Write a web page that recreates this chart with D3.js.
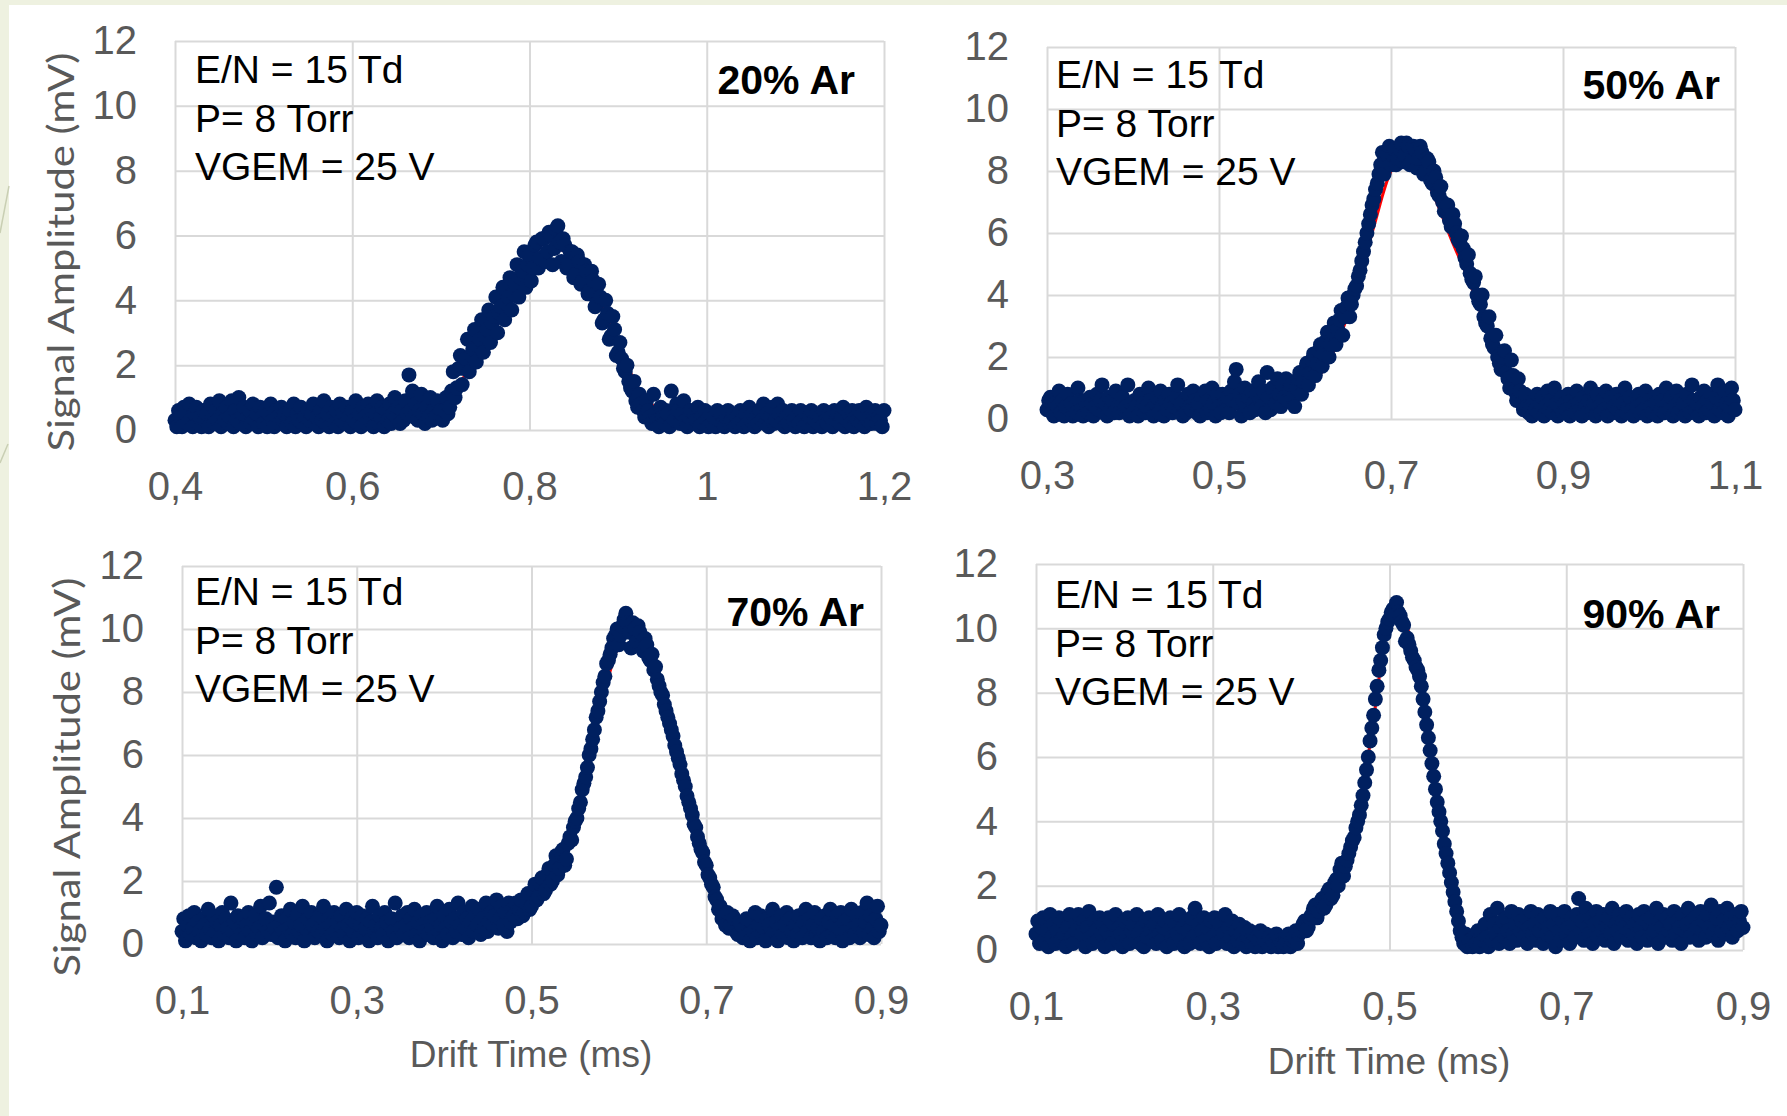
<!DOCTYPE html>
<html>
<head>
<meta charset="utf-8">
<script src="https://cdn.jsdelivr.net/npm/d3@7"></script>
<style>
body { margin: 0; background: #fff; }
svg { display: block; }
text { font-family: "Liberation Sans", Arial, sans-serif; }
</style>
</head>
<body>
<svg id="chart" width="1787" height="1116"></svg>
<script>

// scope traces, one sample every 2 us
var dt = 0.002;

var startAr20 = 0.4;
var ampAr20 = [
  0.3,0.1,0.6,0.4,0.1,0.7,0.5,0.2,0.8,0.3,
  0.1,0.5,0.7,0.2,0.4,0.1,0.6,0.3,0.5,0.1,
  0.8,0.4,0.2,0.6,0.3,0.9,0.1,0.5,0.3,0.7,
  0.2,0.4,0.9,0.1,0.6,0.3,1.0,0.2,0.5,0.7,
  0.1,0.4,0.6,0.2,0.8,0.3,0.5,0.1,0.7,0.4,
  0.2,0.6,0.1,0.5,0.8,0.3,0.1,0.6,0.4,0.2,
  0.7,0.3,0.5,0.1,0.4,0.6,0.2,0.8,0.1,0.5,
  0.3,0.7,0.2,0.4,0.1,0.6,0.3,0.5,0.8,0.2,
  0.4,0.1,0.6,0.3,0.9,0.2,0.5,0.1,0.7,0.4,
  0.2,0.6,0.1,0.8,0.3,0.5,0.2,0.7,0.4,0.1,
  0.6,0.3,0.9,0.2,0.5,0.1,0.7,0.4,0.2,0.8,
  0.3,0.6,0.1,0.5,0.9,0.2,0.4,0.7,0.1,0.6,
  0.3,0.8,0.2,0.5,1.0,0.4,0.7,0.2,0.6,0.3,
  0.9,0.5,1.7,0.6,1.2,0.4,0.8,0.3,0.6,1.1,
  0.5,0.2,0.7,0.4,1.0,0.3,0.6,0.4,0.9,0.5,
  0.6,
  0.3,0.6,1.0,0.5,0.7,1.2,1.8,1.0,1.3,1.9,
  2.3,1.4,1.9,2.2,2.8,1.8,2.3,2.5,3.1,2.1,
  2.6,2.8,3.4,2.4,2.9,3.1,3.7,2.7,3.3,3.5,
  4.1,3.0,3.6,3.8,4.4,3.4,3.9,4.1,4.7,3.7,
  4.2,4.5,5.1,4.1,4.7,4.9,5.5,4.4,5.1,5.4,
  4.6,5.0,5.7,5.8,5.0,5.3,5.9,5.9,5.2,5.5,
  6.1,6.0,5.1,5.6,6.2,6.3,5.8,5.2,5.9,5.7,
  5.0,5.1,5.5,5.5,4.7,4.8,5.4,5.2,4.5,4.6,
  5.1,4.9,4.2,4.3,4.9,4.6,3.8,3.9,4.5,4.1,
  3.3,3.4,4.0,3.6,2.8,2.9,3.5,3.1,2.3,2.4,
  2.7,2.2,1.9,1.8,2.0,1.5,1.3,1.2,1.5,0.9,
  0.7,1.1,0.8,0.6,0.4,0.9,0.6,0.4,0.2,1.1,
  0.5,0.3,0.1,0.7,0.4,0.2,0.6,0.5,0.1,1.2,
  0.4,0.3,0.8,0.6,
  0.2,0.5,0.9,0.3,0.1,0.4,0.6,0.2,0.5,0.3,
  0.7,0.1,0.4,0.2,0.6,0.3,0.1,0.5,0.2,0.4,
  0.1,0.6,0.3,0.5,0.2,0.1,0.4,0.6,0.2,0.3,
  0.5,0.1,0.4,0.2,0.6,0.3,0.1,0.5,0.2,0.7,
  0.3,0.5,0.1,0.4,0.2,0.6,0.3,0.8,0.2,0.5,
  0.1,0.4,0.7,0.2,0.3,0.8,0.5,0.2,0.6,0.1,
  0.4,0.2,0.5,0.6,0.3,0.1,0.4,0.2,0.6,0.3,
  0.1,0.5,0.2,0.4,0.6,0.1,0.3,0.5,0.2,0.4,
  0.1,0.6,0.3,0.2,0.5,0.4,0.1,0.6,0.3,0.5,
  0.2,0.4,0.7,0.1,0.3,0.5,0.2,0.6,0.1,0.4,
  0.3,0.6,0.2,0.5,0.1,0.7,0.3,0.4,0.2,0.5,
  0.6,0.2,0.4,0.3,0.1,0.6
];
var fitAr20 = [[0.65,0.3],[0.70,0.8],[0.73,1.8],[0.76,3.2],[0.79,4.6],[0.81,5.3],[0.83,5.6],
  [0.85,5.3],[0.87,4.6],[0.89,3.3],[0.91,2.0],[0.93,1.0],[0.96,0.4],[1.0,0.3]];

var startAr50 = 0.3;
var ampAr50 = [
  0.3,0.6,0.7,0.2,0.1,0.5,0.4,0.9,0.2,0.6,
  0.1,0.4,0.8,0.3,0.5,0.1,0.4,0.2,1.0,0.6,
  0.3,0.1,0.6,0.4,0.2,0.7,0.5,0.1,0.4,0.8,
  0.3,0.6,1.1,0.2,0.5,0.1,0.7,0.3,0.6,0.2,
  0.9,0.4,0.2,0.6,0.7,0.3,0.4,1.1,0.1,0.5,
  0.2,0.6,0.4,0.1,0.8,0.3,0.5,0.2,0.4,1.0,
  0.6,0.3,0.1,0.5,0.7,0.2,0.9,0.4,0.1,0.6,
  0.3,0.8,0.5,0.2,0.4,0.7,1.1,0.3,0.5,0.1,
  0.6,0.2,0.8,0.4,0.3,0.9,0.6,0.2,0.5,0.1,
  0.7,0.4,0.9,0.2,0.6,0.3,1.0,0.5,0.1,0.8,
  0.4,0.2,0.8,0.5,0.3,0.7,0.2,0.9,0.6,1.2,
  1.6,0.5,0.8,0.1,0.6,1.0,0.4,0.7,0.2,0.9,
  0.5,0.3,0.8,1.2,0.6,0.4,0.9,0.2,1.5,0.7,
  0.3,1.0,0.6,0.5,1.3,0.8,0.4,1.1,0.7,1.3,
  0.6,0.9,1.1,0.7,0.4,1.0,1.3,1.5,0.8,1.2,
  1.6,1.8,1.1,1.5,1.9,2.1,1.4,1.8,2.2,2.4,
  1.7,2.1,2.5,2.8,2.0,2.4,2.8,3.1,2.4,2.9,
  3.2,3.5,2.7,3.3,3.6,3.9,3.3,3.7,4.0,4.2,
  4.3,4.6,4.8,5.1,5.4,5.7,6.0,6.3,6.6,6.9,
  7.1,7.4,7.6,7.9,8.2,8.6,7.9,8.3,8.5,8.8,
  8.2,8.5,8.7,8.2,8.4,8.7,8.9,8.3,8.5,8.9,
  8.8,8.2,8.3,8.8,8.7,8.1,8.4,8.8,8.6,7.9,
  8.0,8.4,8.3,7.7,7.6,8.0,7.8,7.3,7.2,7.5,
  7.0,6.7,6.8,6.9,6.4,6.2,6.6,6.3,6.0,5.8,
  5.7,5.9,5.5,5.2,5.0,5.3,4.7,4.5,4.4,4.6,
  4.0,3.8,3.7,4.0,3.3,3.1,3.0,3.3,2.6,2.4,
  2.3,2.7,2.0,1.8,1.6,2.0,2.2,1.5,1.3,1.0,
  1.9,1.4,0.9,0.6,1.3,0.9,0.5,0.3,0.8,0.4,
  0.2,
  0.4,0.1,0.6,0.3,0.8,0.2,0.5,0.7,0.1,0.4,
  0.9,0.3,0.6,0.2,1.0,0.5,0.1,0.4,0.7,0.2,
  0.5,0.3,0.8,0.1,0.6,0.4,0.2,0.9,0.5,0.3,
  0.1,0.7,0.4,0.2,0.6,1.0,0.3,0.5,0.1,0.8,
  0.4,0.2,0.6,0.3,0.9,0.1,0.5,0.7,0.2,0.4,
  0.8,0.3,0.6,0.1,0.5,1.0,0.2,0.4,0.7,0.3,
  0.1,0.6,0.4,0.8,0.2,0.5,0.3,0.9,0.1,0.6,
  0.4,0.2,0.7,0.5,0.1,0.8,0.3,0.6,0.2,1.0,
  0.5,0.3,0.7,0.1,0.4,0.9,0.2,0.6,0.3,0.5,
  0.1,0.8,0.4,0.2,1.1,0.6,0.3,0.5,0.1,0.7,
  0.4,0.9,0.2,0.6,0.3,0.8,0.5,0.1,0.7,1.1,
  0.3,0.6,0.2,0.9,0.5,0.1,0.4,1.0,0.6,0.3
];
var fitAr50 = [[0.55,0.3],[0.60,0.9],[0.63,2.0],[0.66,4.2],[0.68,6.2],[0.70,8.0],[0.715,8.6],
  [0.73,8.3],[0.75,7.2],[0.77,5.8],[0.79,4.5],[0.81,3.0],[0.83,1.6],[0.86,0.5],[0.90,0.3]];

var startAr70 = 0.1;
var ampAr70 = [
  0.4,0.8,0.1,0.6,0.9,0.3,0.5,1.0,0.2,0.7,
  0.4,0.1,0.8,0.6,0.3,1.1,0.5,0.2,0.9,0.4,
  0.7,0.1,0.6,1.0,0.3,0.8,0.5,0.2,1.3,0.4,
  0.7,0.1,0.9,0.5,0.3,0.8,0.2,0.6,1.0,0.4,
  0.1,0.7,0.9,0.3,0.5,1.2,0.2,0.6,0.8,0.4,
  1.3,0.3,0.7,0.5,1.8,0.2,0.6,0.9,0.4,0.1,
  0.8,0.5,1.1,0.3,0.7,0.2,0.9,0.4,0.6,1.2,
  0.1,0.5,0.8,0.3,1.0,0.6,0.2,0.7,0.4,0.9,
  0.3,1.2,0.5,0.1,0.8,0.6,0.3,1.0,0.4,0.7,
  0.2,0.9,0.5,0.3,1.1,0.6,0.1,0.8,0.4,0.7,
  1.0,0.2,0.6,0.9,0.3,0.5,0.8,0.1,0.7,1.2,
  0.4,0.6,0.2,0.9,0.5,0.3,1.0,0.7,0.1,0.6,
  0.8,0.4,1.3,0.2,0.7,0.5,0.9,0.3,0.6,1.0,
  0.2,0.8,0.5,1.1,0.3,0.7,0.1,0.9,0.6,0.4,
  1.0,0.3,0.7,0.5,0.2,0.8,1.2,0.4,0.6,0.1,
  0.9,0.5,0.3,1.1,0.7,0.2,0.8,0.4,1.3,0.6,
  0.3,1.0,0.5,0.8,0.2,0.7,1.2,0.4,0.9,0.6,
  1.1,0.3,0.8,0.5,1.3,0.4,0.7,1.0,0.6,0.9,
  1.4,0.5,0.8,1.2,0.6,1.0,0.4,1.3,0.7,1.1,
  0.9,1.3,
  0.8,1.1,1.4,0.9,1.0,1.3,1.6,1.1,1.2,1.6,
  1.9,1.4,1.5,1.9,2.1,1.6,1.7,2.2,2.4,1.9,
  2.0,2.5,2.8,2.2,2.4,2.9,3.0,2.5,2.7,3.2,
  3.4,3.3,3.7,3.9,4.0,4.3,4.5,4.9,5.1,5.3,
  5.6,6.0,6.2,6.5,6.8,7.2,7.4,7.7,8.0,8.3,
  8.5,8.9,9.0,9.2,9.4,9.7,9.8,10.0,9.5,9.8,
  10.1,10.3,10.5,10.2,9.9,9.4,10.2,10.0,9.6,10.1,
  9.9,9.5,9.3,9.7,9.5,9.1,9.0,9.2,8.7,8.8,
  8.4,8.2,8.0,7.9,7.6,7.4,7.2,7.0,6.8,6.6,
  6.3,6.1,5.9,5.7,5.4,5.2,5.0,4.7,4.5,4.3,
  4.1,3.8,3.7,3.4,3.2,3.0,2.9,2.6,2.5,2.2,
  2.1,1.9,1.8,1.5,1.4,1.1,1.2,0.8,0.9,0.6,
  1.0,0.5,0.6,0.9,0.8,0.4,0.3,0.7,0.6,
  0.2,0.5,0.8,0.3,0.1,0.7,0.4,1.0,0.2,0.6,
  0.9,0.3,0.5,0.1,0.8,0.6,0.2,1.1,0.4,0.7,
  0.1,0.5,0.9,0.3,0.6,1.0,0.2,0.8,0.4,0.1,
  0.6,0.3,0.9,0.5,0.2,0.7,1.1,0.4,0.8,0.2,
  0.6,1.0,0.3,0.5,0.1,0.8,0.4,0.9,0.2,0.7,
  1.1,0.3,0.6,0.2,0.9,0.5,1.0,0.1,0.7,0.4,
  0.8,0.2,1.1,0.5,0.3,0.9,0.6,0.2,1.0,0.4,
  0.7,1.3,0.3,0.9,0.5,0.2,0.8,1.2,0.4,0.6
];
var fitAr70 = [[0.45,0.4],[0.50,1.5],[0.53,2.8],[0.56,5.0],[0.58,7.6],[0.60,9.5],[0.612,10.0],
  [0.63,9.4],[0.65,7.8],[0.67,5.5],[0.69,3.4],[0.71,1.6],[0.74,0.5],[0.78,0.3]];

var startAr90 = 0.1;
var ampAr90 = [
  0.5,0.9,0.2,0.7,1.0,0.3,0.6,0.1,1.1,0.4,
  0.8,0.2,0.6,1.0,0.3,0.9,0.5,0.1,0.7,1.1,
  0.4,0.2,0.8,0.6,1.1,0.3,0.5,0.9,0.1,0.7,
  1.2,0.4,0.2,0.9,0.6,0.3,1.0,0.5,0.8,0.1,
  0.6,1.0,0.4,0.2,0.8,1.1,0.3,0.7,0.5,0.1,
  0.9,0.4,1.0,0.2,0.6,0.8,0.3,1.1,0.5,0.2,
  0.7,0.1,0.9,0.4,1.0,0.6,0.3,0.8,0.2,1.1,
  0.5,0.3,0.7,0.9,0.1,0.6,1.0,0.4,0.2,0.8,
  0.5,1.1,0.3,0.7,0.1,0.9,0.6,0.2,1.0,0.4,
  1.3,0.5,0.8,0.2,0.6,1.0,0.3,0.7,0.1,0.9,
  0.4,1.0,0.2,0.6,0.8,0.3,0.5,1.1,0.2,0.7,
  0.4,0.9,0.1,0.6,0.3,0.8,0.5,0.2,0.7,0.1,
  0.4,0.6,0.2,0.5,0.1,0.4,0.3,0.6,0.1,0.3,
  0.5,0.2,0.4,0.1,0.3,0.2,0.5,0.1,0.3,0.2,
  0.1,0.2,
  0.3,0.5,0.1,0.3,0.4,0.6,0.2,0.5,0.6,0.8,
  0.9,0.6,0.7,1.0,1.1,1.3,1.4,1.0,1.2,1.5,
  1.6,1.3,1.4,1.8,1.9,1.6,1.7,2.1,2.2,2.0,
  2.5,2.7,2.3,2.6,2.8,3.0,3.2,3.4,3.5,3.8,
  4.0,4.2,4.5,4.8,5.2,5.6,6.0,6.5,6.9,7.3,
  7.8,8.2,8.7,9.0,9.4,9.8,10.0,10.2,10.3,10.5,
  10.6,10.4,10.8,10.5,10.4,10.2,10.1,9.6,9.7,9.5,
  9.3,9.1,9.0,8.8,8.7,8.5,8.2,7.8,7.4,7.0,
  6.6,6.2,5.8,5.4,5.0,4.6,4.3,4.0,3.7,3.3,
  3.0,2.7,2.4,2.1,1.8,1.5,1.2,0.9,0.6,0.4,
  0.2,0.5,0.1,0.3,
  0.3,0.1,0.4,0.2,0.6,0.1,0.5,0.3,0.8,0.4,
  0.1,1.1,0.3,0.8,0.5,1.3,0.2,0.7,0.9,0.4,
  1.0,0.6,0.2,1.2,0.5,0.8,0.3,1.1,0.6,0.9,
  0.4,1.0,0.2,0.7,1.2,0.5,0.8,0.3,1.1,0.6,
  0.9,0.2,1.0,0.5,0.7,1.2,0.4,0.8,0.1,1.1,
  0.6,0.3,0.9,1.2,0.5,0.7,0.2,1.0,0.8,0.4,
  1.1,1.6,0.6,0.9,0.3,1.3,0.7,0.5,1.0,0.2,
  0.8,1.2,0.4,0.9,0.6,1.1,0.3,0.7,1.0,0.5,
  1.3,0.2,0.8,0.6,1.1,0.4,0.9,0.7,1.2,0.3,
  0.6,1.0,0.5,0.8,0.2,1.1,0.7,0.4,1.2,0.9,
  0.3,0.8,1.0,0.5,0.6,1.3,0.2,0.9,0.7,1.1,
  0.4,1.0,0.6,0.8,0.3,1.2,0.5,0.9,0.7,0.2,
  1.1,0.6,0.8,1.3,0.4,0.9,0.5,1.0,0.7,0.3,
  1.2,0.6,0.9,0.4,1.1,0.7,1.4,0.5,0.8,1.0,
  0.3,1.2,0.6,0.9,0.5,1.3,0.7,1.0,0.4,0.8,
  1.1,0.6,0.9,1.2,0.7
];
var fitAr90 = [[0.35,0.4],[0.40,0.7],[0.43,1.6],[0.46,3.4],[0.48,6.8],[0.50,10.2],[0.51,10.6],
  [0.53,9.0],[0.55,5.6],[0.57,2.2],[0.59,0.4],[0.62,0.3]];

var gasLabels = ["20% Ar", "50% Ar", "70% Ar", "90% Ar"];
var infoLines = ["E/N = 15 Td", "P= 8 Torr", "VGEM = 25 V"];
var xTicksTop = [[0.4, 0.6, 0.8, 1, 1.2], [0.3, 0.5, 0.7, 0.9, 1.1]];
var xTicksBottom = [0.1, 0.3, 0.5, 0.7, 0.9];
var yTicks = [0, 2, 4, 6, 8, 10, 12];
var yTitle = "Signal Amplitude (mV)";
var xTitle = "Drift Time (ms)";

var panels = [
  { amp: ampAr20, t0: startAr20, fit: fitAr20, ticks: xTicksTop[0], tag: gasLabels[0],
    l: 175, r: 884, t: 41, b: 430, infoX: 195, infoY: 83, tagX: 855, tagY: 94 },
  { amp: ampAr50, t0: startAr50, fit: fitAr50, ticks: xTicksTop[1], tag: gasLabels[1],
    l: 1047, r: 1735, t: 47, b: 419, infoX: 1056, infoY: 88, tagX: 1720, tagY: 99 },
  { amp: ampAr70, t0: startAr70, fit: fitAr70, ticks: xTicksBottom, tag: gasLabels[2],
    l: 182, r: 881, t: 566, b: 944, infoX: 195, infoY: 605, tagX: 864, tagY: 626 },
  { amp: ampAr90, t0: startAr90, fit: fitAr90, ticks: xTicksBottom, tag: gasLabels[3],
    l: 1036, r: 1743, t: 564, b: 950, infoX: 1055, infoY: 608, tagX: 1720, tagY: 628 }
];

var svg = d3.select("#chart");

// slide background
svg.append("rect").attr("width", 1787).attr("height", 1116).attr("fill", "#eef1e0");
svg.append("rect").attr("x", 9).attr("y", 5).attr("width", 1778).attr("height", 1111).attr("fill", "#fff");
svg.append("line").attr("x1", 0).attr("y1", 233).attr("x2", 9).attr("y2", 186)
  .attr("stroke", "#c9cfb3").attr("stroke-width", 1.5);
svg.append("line").attr("x1", 0).attr("y1", 463).attr("x2", 8).attr("y2", 444)
  .attr("stroke", "#c9cfb3").attr("stroke-width", 1.5);

var comma = function (d) { return String(d).replace(".", ","); };

panels.forEach(function (p) {
  var x = d3.scaleLinear().domain([p.ticks[0], p.ticks[p.ticks.length - 1]]).range([p.l, p.r]);
  var y = d3.scaleLinear().domain([0, 12]).range([p.b, p.t]);

  var yAxis = svg.append("g")
    .attr("transform", "translate(" + p.l + ",0)")
    .call(d3.axisLeft(y).tickValues(yTicks).tickSize(-(p.r - p.l)).tickPadding(38).tickFormat(comma));
  var xAxis = svg.append("g")
    .attr("transform", "translate(0," + p.b + ")")
    .call(d3.axisBottom(x).tickValues(p.ticks).tickSize(-(p.b - p.t)).tickPadding(42).tickFormat(comma));

  [yAxis, xAxis].forEach(function (a) {
    a.select(".domain").remove();
    a.selectAll("line").attr("stroke", "#d9d9d9").attr("stroke-width", 2);
    a.selectAll("text").attr("fill", "#595959").style("font-size", "40px");
  });

  // gaussian fit, mostly hidden under the points
  var line = d3.line()
    .x(function (d) { return x(d[0]); })
    .y(function (d) { return y(d[1]); })
    .curve(d3.curveCatmullRom);
  svg.append("path").datum(p.fit)
    .attr("d", line)
    .attr("fill", "none")
    .attr("stroke", "#ff0000")
    .attr("stroke-width", 3);

  svg.append("g").selectAll("circle")
    .data(p.amp)
    .enter().append("circle")
    .attr("cx", function (d, i) { return x(p.t0 + i * dt); })
    .attr("cy", function (d) { return y(d); })
    .attr("r", 7.5)
    .attr("fill", "#002060");

  svg.append("g").selectAll("text")
    .data(infoLines)
    .enter().append("text")
    .attr("x", p.infoX)
    .attr("y", function (d, i) { return p.infoY + i * 48.5; })
    .style("font-size", "39px")
    .attr("fill", "#000")
    .text(function (d) { return d; });

  svg.append("text")
    .attr("x", p.tagX)
    .attr("y", p.tagY)
    .attr("text-anchor", "end")
    .style("font-size", "41px")
    .style("font-weight", "bold")
    .attr("fill", "#000")
    .text(p.tag);
});

// axis titles
[[74, 252], [80, 777]].forEach(function (pos) {
  svg.append("text")
    .attr("transform", "translate(" + pos[0] + "," + pos[1] + ") rotate(-90)")
    .attr("text-anchor", "middle")
    .attr("textLength", 399)
    .attr("lengthAdjust", "spacingAndGlyphs")
    .style("font-family", "Lato, 'Noto Sans', sans-serif")
    .style("font-size", "36px")
    .attr("fill", "#595959")
    .text(yTitle);
});

[[531, 1067], [1389, 1074]].forEach(function (pos) {
  svg.append("text")
    .attr("x", pos[0])
    .attr("y", pos[1])
    .attr("text-anchor", "middle")
    .style("font-size", "37px")
    .attr("fill", "#595959")
    .text(xTitle);
});

</script>
</body>
</html>
